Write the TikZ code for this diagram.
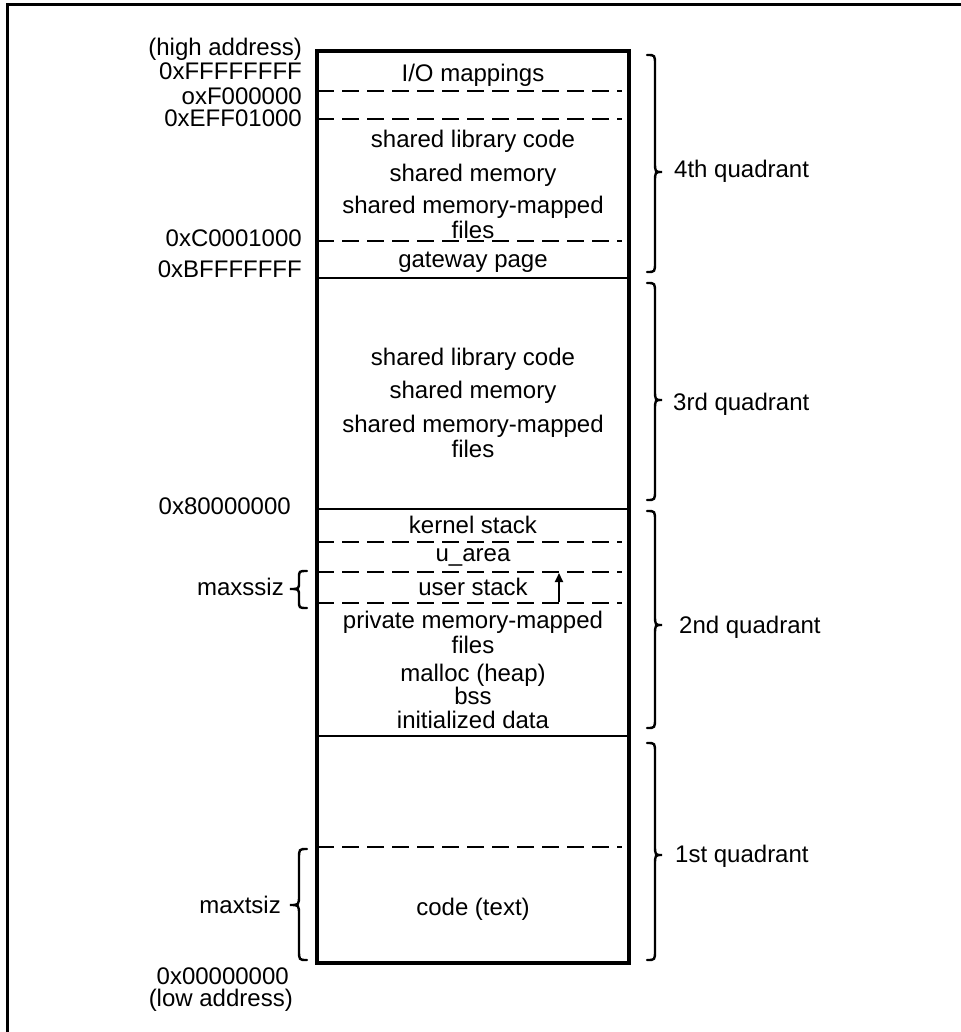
\documentclass[tikz,border=0pt]{standalone}
\usepackage{fontspec}
\setmainfont{Liberation Sans}
\usetikzlibrary{arrows.meta}
% curly brace: #1 end x, #2 spine x, #3 tip x, #4 top y, #5 tip y, #6 bottom y, #7 curl length
\newcommand\curlybrace[7]{%
  \draw[bracepen] (#1,#4) .. controls (#2,#4) .. (#2,#4+#7) -- (#2,#5-#7)
    .. controls (#2,#5) .. (#3,#5) .. controls (#2,#5) .. (#2,#5+#7)
    -- (#2,#6-#7) .. controls (#2,#6) .. (#1,#6);}
\begin{document}
\begin{tikzpicture}[x=1pt,y=-1pt,
  txt/.style={font=\fontsize{24}{28}\selectfont, inner sep=0pt},
  addr/.style={txt, anchor=base east},
  region/.style={txt, anchor=base},
  quad/.style={txt, anchor=base west},
  solidsep/.style={line width=1.8pt},
  dashsep/.style={line width=1.8pt, dash pattern=on 17pt off 8pt},
  bracepen/.style={line width=2.4pt, line cap=round},
]
\useasboundingbox (0,0) rectangle (960,1032);

% outer frame (only top and left edges fall inside the page)
\draw[line width=3pt] (7,1040) -- (7,5) -- (970,5);

% memory column
\coordinate (boxNW) at (317,51);
\coordinate (boxSE) at (629,963);
\draw[line width=3.2pt] (boxNW) rectangle (boxSE);

% solid quadrant borders
\foreach \yy in {278,509,736} \draw[solidsep] (317,\yy) -- (629,\yy);
% dashed region borders
\foreach \yy in {91,119,241,542,572,603,847} \draw[dashsep] (317,\yy) -- (622,\yy);

% 4th quadrant contents
\node[region] (io) at (473,82) {I/O mappings};
\node[region] (slc4) at (473,148) {shared library code};
\node[region] (sm4) at (473,182) {shared memory};
\node[region] (smm4) at (473,214) {shared memory-mapped};
\node[region] (smf4) at (473,238) {files};
\node[region] (gw) at (473,267) {gateway page};

% 3rd quadrant contents
\node[region] (slc3) at (473,365) {shared library code};
\node[region] (sm3) at (473,398) {shared memory};
\node[region] (smm3) at (473,432) {shared memory-mapped};
\node[region] (smf3) at (473,457) {files};

% 2nd quadrant contents
\node[region] (ks) at (473,533) {kernel stack};
\node[region] (ua) at (473,561) {u\_area};
\node[region] (us) at (473,595) {user stack};
\node[region] (pmm) at (473,628) {private memory-mapped};
\node[region] (pmf) at (473,653) {files};
\node[region] (heap) at (473,681) {malloc (heap)};
\node[region] (bss) at (473,704) {bss};
\node[region] (idata) at (473,728) {initialized data};

% 1st quadrant contents
\node[region] (code) at (473,915) {code (text)};

% stack growth arrow
\coordinate (stkbot) at (559,602);
\coordinate (stktop) at (559,573);
\draw[line width=1.8pt, -{Triangle[length=9pt,width=8pt]}] (stkbot) -- (stktop);

% address labels
\node[addr] (hi) at (302,56) {(high address)};
\node[addr] (aF) at (302,80) {0xFFFFFFFF};
\node[addr] (aF0) at (302,105) {oxF000000};
\node[addr] (aEF) at (302,127) {0xEFF01000};
\node[addr] (aC0) at (302,247) {0xC0001000};
\node[addr] (aBF) at (302,277) {0xBFFFFFFF};
\node[addr] (a80) at (291,514) {0x80000000};
\node[addr] (a00) at (289,984) {0x00000000};
\node[addr] (lo) at (293,1006) {(low address)};

% size limits
\node[addr] (mss) at (284,595) {maxssiz};
\curlybrace{307}{299}{290}{571}{589}{608}{7}
\node[addr] (mts) at (281,913) {maxtsiz};
\curlybrace{307}{299}{290}{849}{905}{960}{10}

% quadrant braces
\curlybrace{647}{655}{662}{55}{172}{272}{10}
\node[quad] (q4) at (674,178) {4th quadrant};
\curlybrace{647}{655}{662}{283}{400}{500}{10}
\node[quad] (q3) at (673,410) {3rd quadrant};
\curlybrace{647}{655}{662}{511}{625}{728}{10}
\node[quad] (q2) at (679,633) {2nd quadrant};
\curlybrace{647}{655}{662}{743}{855}{960}{10}
\node[quad] (q1) at (675,862) {1st quadrant};
\end{tikzpicture}
\end{document}
